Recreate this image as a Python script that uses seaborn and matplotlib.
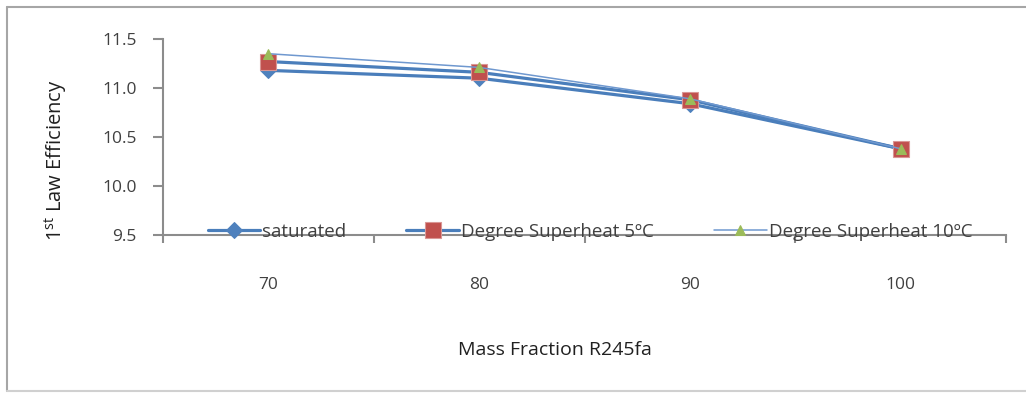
import matplotlib
matplotlib.use("Agg")
import matplotlib.pyplot as plt
import seaborn as sns
import pandas as pd
from matplotlib.lines import Line2D
from matplotlib.ticker import FixedLocator

# ---- data ----
categories = ["70", "80", "90", "100"]
saturated = [11.18, 11.10, 10.84, 10.38]
superheat5 = [11.27, 11.16, 10.88, 10.38]
superheat10 = [11.35, 11.21, 10.89, 10.38]
series_names = ["saturated", "Degree Superheat 5\u00baC", "Degree Superheat 10\u00baC"]
yticks = [9.5, 10.0, 10.5, 11.0, 11.5]

sns.set_theme(style="white")
plt.rcParams['font.family'] = ['Open Sans', 'DejaVu Sans']
plt.rcParams['mathtext.fontset'] = 'custom'
plt.rcParams['mathtext.rm'] = 'Open Sans'

W, H = 1026, 393
fig = plt.figure(figsize=(W / 100, H / 100), dpi=100)
ax = fig.add_axes([163 / W, 1 - 235 / H, (1006 - 163) / W, (235 - 39) / H])

txt = "#404040"
axc = "#8c8c8c"
blue = "#4A7EBB"

df = pd.DataFrame({"x": categories, "s": saturated, "d5": superheat5, "d10": superheat10})

sns.lineplot(data=df, x="x", y="s", ax=ax, color=blue, lw=2.3, marker="D",
             markersize=8, markerfacecolor="#4F81BD", markeredgecolor="#4F81BD",
             label=series_names[0], sort=False)
sns.lineplot(data=df, x="x", y="d5", ax=ax, color=blue, lw=2.3, marker="s",
             markersize=11, markerfacecolor="#C0504D", markeredgecolor="#D99694",
             markeredgewidth=0.8, label=series_names[1], sort=False)
sns.lineplot(data=df, x="x", y="d10", ax=ax, color="#6F98CF", lw=1.1, marker="^",
             markersize=7, markerfacecolor="#9BBB59", markeredgecolor="#9BBB59",
             label=series_names[2], sort=False)

ax.set_xlim(-0.5, len(categories) - 0.5)
ax.set_ylim(yticks[0], yticks[-1])
ax.set_yticks(yticks)
ax.set_yticklabels([f"{v:.1f}" for v in yticks])
ax.set_xticks(range(len(categories)))
ax.set_xticklabels(categories)
ax.xaxis.set_minor_locator(FixedLocator([i - 0.5 for i in range(len(categories) + 1)]))
ax.tick_params(axis="x", which="major", length=0, pad=30, labelsize=12.5, labelcolor=txt)
ax.tick_params(axis="x", which="minor", length=6, width=1.5, color=axc, direction="out", bottom=True)
ax.tick_params(axis="y", length=7, width=1.5, color=axc, direction="out", left=True,
               pad=12, labelsize=12.5, labelcolor=txt)
ax.set_xlabel("")
ax.set_ylabel("")
for s in ["top", "right"]:
    ax.spines[s].set_visible(False)
for s in ["left", "bottom"]:
    ax.spines[s].set_color(axc)
    ax.spines[s].set_linewidth(1.5)
ax.spines["bottom"].set_zorder(3)

leg = ax.legend(loc="center", bbox_to_anchor=(590 / W, 1 - 232 / H),
                bbox_transform=fig.transFigure, ncol=3, frameon=False,
                fontsize=13.5, handlelength=2.8, handletextpad=0.12,
                columnspacing=3.2, borderpad=0)
for t in leg.get_texts():
    t.set_color(txt)

fig.text(555 / W, 1 - 350 / H, "Mass Fraction R245fa", ha="center", va="center",
         fontsize=14, color="#202020")
fig.text(56 / W, 1 - 160 / H, r"1$^{\mathrm{st}}$ Law Efficiency", ha="center", va="center",
         rotation=90, fontsize=14.5, color="#202020")

# chart-area border
fig.add_artist(Line2D([7 / W, 1.02], [1 - 7 / H, 1 - 7 / H], transform=fig.transFigure,
                      color="#a6a6a6", lw=1.5))
fig.add_artist(Line2D([7 / W, 7 / W], [1 - 7 / H, 1 - 391 / H], transform=fig.transFigure,
                      color="#a6a6a6", lw=1.5))
fig.add_artist(Line2D([7 / W, 1.02], [1 - 391 / H, 1 - 391 / H], transform=fig.transFigure,
                      color="#d0d0d0", lw=1.5))

fig.savefig("out.png", dpi=100)
